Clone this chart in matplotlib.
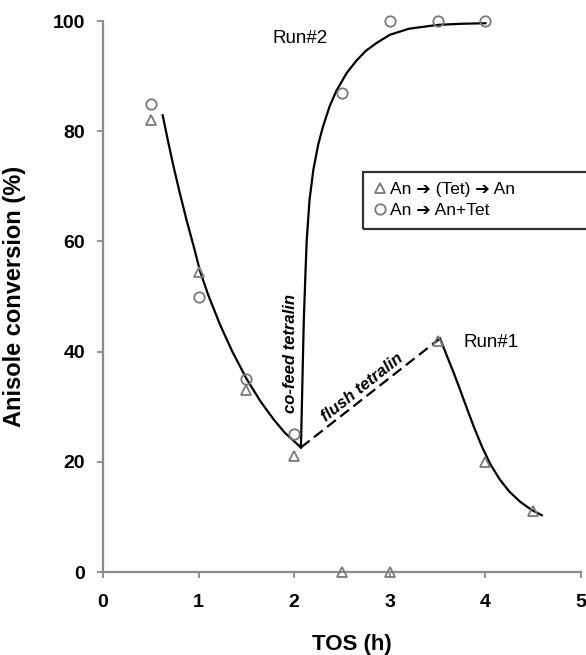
import matplotlib
matplotlib.use("Agg")
import matplotlib.pyplot as plt
from matplotlib.patches import Rectangle

plt.rcParams['font.family'] = ['Liberation Sans', 'DejaVu Sans']

# ---- data ----
tos_tri = [0.5, 1.0, 1.5, 2.0, 2.5, 3.0, 3.5, 4.0, 4.5]
conv_tri = [82, 54.5, 33, 21, 0, 0, 42, 20, 11]

tos_circ = [0.5, 1.0, 1.5, 2.0, 2.5, 3.0, 3.5, 4.0]
conv_circ = [85, 50, 35, 25, 87, 100, 100, 100]

# trend curves
decay1_x = [0.624, 0.68, 0.735, 0.80, 0.875, 0.95, 1.015, 1.10, 1.224, 1.35, 1.503, 1.65, 1.78, 1.90, 2.07]
decay1_y = [82.9, 78.2, 73.8, 69.0, 63.8, 59.0, 54.6, 50.3, 44.9, 40.1, 35.0, 30.9, 27.8, 25.3, 22.6]

rise2_x = [2.07, 2.08, 2.09, 2.10, 2.115, 2.13, 2.16, 2.20, 2.25, 2.30, 2.37, 2.44, 2.55, 2.65, 2.75, 2.86, 3.0, 3.2, 3.5, 3.75, 4.0]
rise2_y = [22.6, 30, 38, 45.5, 53, 60, 67.5, 73, 77.5, 80.8, 84.5, 87.3, 90.6, 92.8, 94.6, 96, 97.5, 98.6, 99.3, 99.5, 99.6]

flush_x = [2.07, 3.525]
flush_y = [22.6, 42.4]

decay3_x = [3.525, 3.60, 3.665, 3.73, 3.80, 3.88, 3.96, 4.05, 4.15, 4.25, 4.36, 4.48, 4.59]
decay3_y = [42.4, 39.1, 36.3, 33.3, 30.0, 26.3, 22.9, 19.6, 16.8, 14.6, 12.8, 11.3, 10.3]

x_ticks = [0, 1, 2, 3, 4, 5]
y_ticks = [0, 20, 40, 60, 80, 100]

label_tri = "An \u2794 (Tet) \u2794 An"
label_circ = "An \u2794 An+Tet"

# ---- figure ----
fig = plt.figure(figsize=(5.86, 6.55), dpi=100)
ax = fig.add_axes([0.1758, 0.1267, 0.8157, 0.8412])

gray = '#8a8a8a'
mk_gray = '#7a7a7a'

ax.plot(decay1_x, decay1_y, color='black', lw=1.6, zorder=2)
ax.plot(rise2_x, rise2_y, color='black', lw=1.6, zorder=2)
ax.plot(flush_x, flush_y, color='black', lw=1.6, ls=(0, (5, 2.5)), zorder=2)
ax.plot(decay3_x, decay3_y, color='black', lw=1.6, zorder=2)

h_tri, = ax.plot(tos_tri, conv_tri, ls='none', marker='^', ms=7.5, mfc='none',
                 mec=mk_gray, mew=1.3, clip_on=False, zorder=3, label=label_tri)
h_circ, = ax.plot(tos_circ, conv_circ, ls='none', marker='o', ms=7.5, mfc='none',
                  mec=mk_gray, mew=1.3, clip_on=False, zorder=3, label=label_circ)

ax.set_xlim(0, 5)
ax.set_ylim(0, 100)
ax.set_xticks(x_ticks)
ax.set_yticks(y_ticks)
ax.set_xticklabels([str(v) for v in x_ticks])
ax.set_yticklabels([str(v) for v in y_ticks])

for s in ['top', 'right']:
    ax.spines[s].set_visible(False)
for s in ['left', 'bottom']:
    ax.spines[s].set_color(gray)
    ax.spines[s].set_linewidth(1.6)

ax.tick_params(axis='both', direction='out', length=4, width=1.3, color=gray,
               labelsize=14, labelcolor='black')
ax.tick_params(axis='x', pad=12)
ax.tick_params(axis='y', pad=9)
for lab in ax.get_xticklabels() + ax.get_yticklabels():
    lab.set_fontweight('bold')

ax.set_xlabel('TOS (h)', fontsize=16, fontweight='bold')
ax.set_ylabel('Anisole conversion (%)', fontsize=17, fontweight='bold')
ax.xaxis.set_label_coords(0.52, -0.112)
ax.yaxis.set_label_coords(-0.162, 0.5)

# annotations
ax.text(1.778, 96.9, 'Run#2', fontsize=13.5, ha='left', va='center')
ax.text(3.766, 41.6, 'Run#1', fontsize=13.5, ha='left', va='center')
ax.text(1.956, 39.6, 'co-feed tetralin', fontsize=12, fontweight='bold', style='italic',
        rotation=90, ha='center', va='center')
ax.text(2.714, 33.5, 'flush tetralin', fontsize=12, fontweight='bold', style='italic',
        rotation=38.5, rotation_mode='anchor', ha='center', va='center')

# legend box (extends past the right edge as in the reference)
rx0 = (363 - 103) / 478 * 5
box = Rectangle((rx0, (572 - 229) / 551 * 100), 3.0, (229 - 172) / 551 * 100,
                fill=False, ec='#333333', lw=1.6, clip_on=False, zorder=4,
                transform=ax.transData)
ax.add_patch(box)
leg = ax.legend(handles=[h_tri, h_circ], loc='upper left',
                bbox_to_anchor=(rx0 + 0.12, (572 - 182) / 551 * 100),
                bbox_transform=ax.transData, frameon=False, fontsize=12.5,
                handlelength=0.6, handletextpad=0.3, labelspacing=0.32,
                borderpad=0.0, borderaxespad=0.0)

fig.savefig('out.png', dpi=100)
